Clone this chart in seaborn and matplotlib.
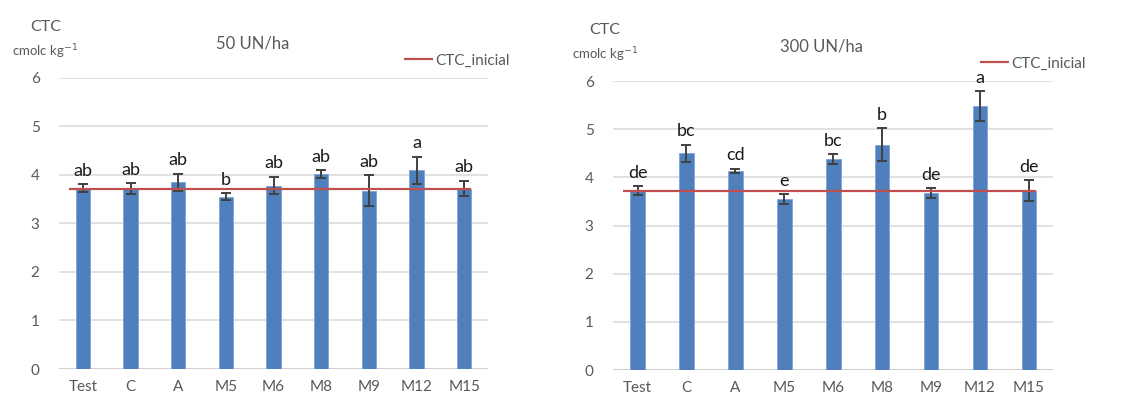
import numpy as np
import pandas as pd
import seaborn as sns
import matplotlib.pyplot as plt

# data
tratamentos = ['Test', 'C', 'A', 'M5', 'M6', 'M8', 'M9', 'M12', 'M15']
ctc_inicial = 3.72

ctc_50 = [3.73, 3.72, 3.85, 3.55, 3.78, 4.02, 3.68, 4.10, 3.72]
erro_50 = [0.08, 0.11, 0.18, 0.07, 0.18, 0.08, 0.31, 0.28, 0.16]
letras_50 = ['ab', 'ab', 'ab', 'b', 'ab', 'ab', 'ab', 'a', 'ab']

ctc_300 = [3.72, 4.50, 4.13, 3.55, 4.38, 4.68, 3.67, 5.48, 3.72]
erro_300 = [0.09, 0.18, 0.05, 0.10, 0.10, 0.34, 0.10, 0.31, 0.22]
letras_300 = ['de', 'bc', 'cd', 'e', 'bc', 'b', 'de', 'a', 'de']

sns.set_theme(style='white')
plt.rcParams['font.family'] = ['Lato', 'DejaVu Sans']

cinza = '#595959'
azul = '#4F7FBC'
vermelho = '#C0504D'

fig = plt.figure(figsize=(11.29, 4.01), dpi=100)
ax1 = fig.add_axes([0.0523, 0.0798, 0.380, 0.7257])
ax2 = fig.add_axes([0.543, 0.0773, 0.390, 0.7207])


def painel(ax, valores, erros, letras, titulo, tx, lx, titx):
    df = pd.DataFrame({'trat': tratamentos, 'ctc': valores})
    sns.barplot(ax=ax, data=df, x='trat', y='ctc', color=azul, width=0.3,
                saturation=1, edgecolor='#7FA6D6', linewidth=0.6, zorder=3)
    ax.errorbar(range(len(tratamentos)), valores, yerr=erros, fmt='none',
                ecolor='#404040', elinewidth=1.4, capsize=3.5, capthick=1.4, zorder=5)
    ax.hlines(ctc_inicial, -0.3, len(tratamentos) - 0.85, color=vermelho, lw=1.6,
              zorder=6, label='CTC_inicial')
    for i, (v, e, l) in enumerate(zip(valores, erros, letras)):
        ax.annotate(l, (i, v + e), xytext=(0, 4), textcoords='offset points',
                    ha='center', va='bottom', fontsize=13, color='#1a1a1a')
    ax.set_xlim(-0.5, len(tratamentos) - 0.5)
    ax.set_ylim(0, 6)
    ax.set_yticks(range(0, 7))
    ax.grid(axis='y', color='#D9D9D9', lw=1.1, zorder=0)
    for s in ax.spines.values():
        s.set_visible(False)
    ax.axhline(0, color='#D0D0D0', lw=1.3, zorder=2)
    ax.set_xlabel('')
    ax.set_ylabel('')
    ax.tick_params(axis='both', length=0, colors=cinza, labelsize=11)
    ax.tick_params(axis='x', pad=8)
    ax.tick_params(axis='y', pad=14)
    ax.set_title(titulo, color=cinza, fontsize=12, pad=21, x=titx)
    ax.text(tx, 1.175, 'CTC', transform=ax.transAxes, ha='center', va='center',
            color=cinza, fontsize=11.5)
    ax.text(tx, 1.09, 'cmolc kg$^{-1}$', transform=ax.transAxes, ha='center',
            va='center', color=cinza, fontsize=9.5)
    ax.legend(loc='center left', bbox_to_anchor=(lx, 1.06), frameon=False,
              handlelength=1.9, handletextpad=0.15, fontsize=11,
              labelcolor=cinza, borderaxespad=0)


painel(ax1, ctc_50, erro_50, letras_50, '50 UN/ha', -0.032, 0.79, 0.452)
painel(ax2, ctc_300, erro_300, letras_300, '300 UN/ha', -0.018, 0.82, 0.473)

fig.savefig('out.png', dpi=100, facecolor='white')
